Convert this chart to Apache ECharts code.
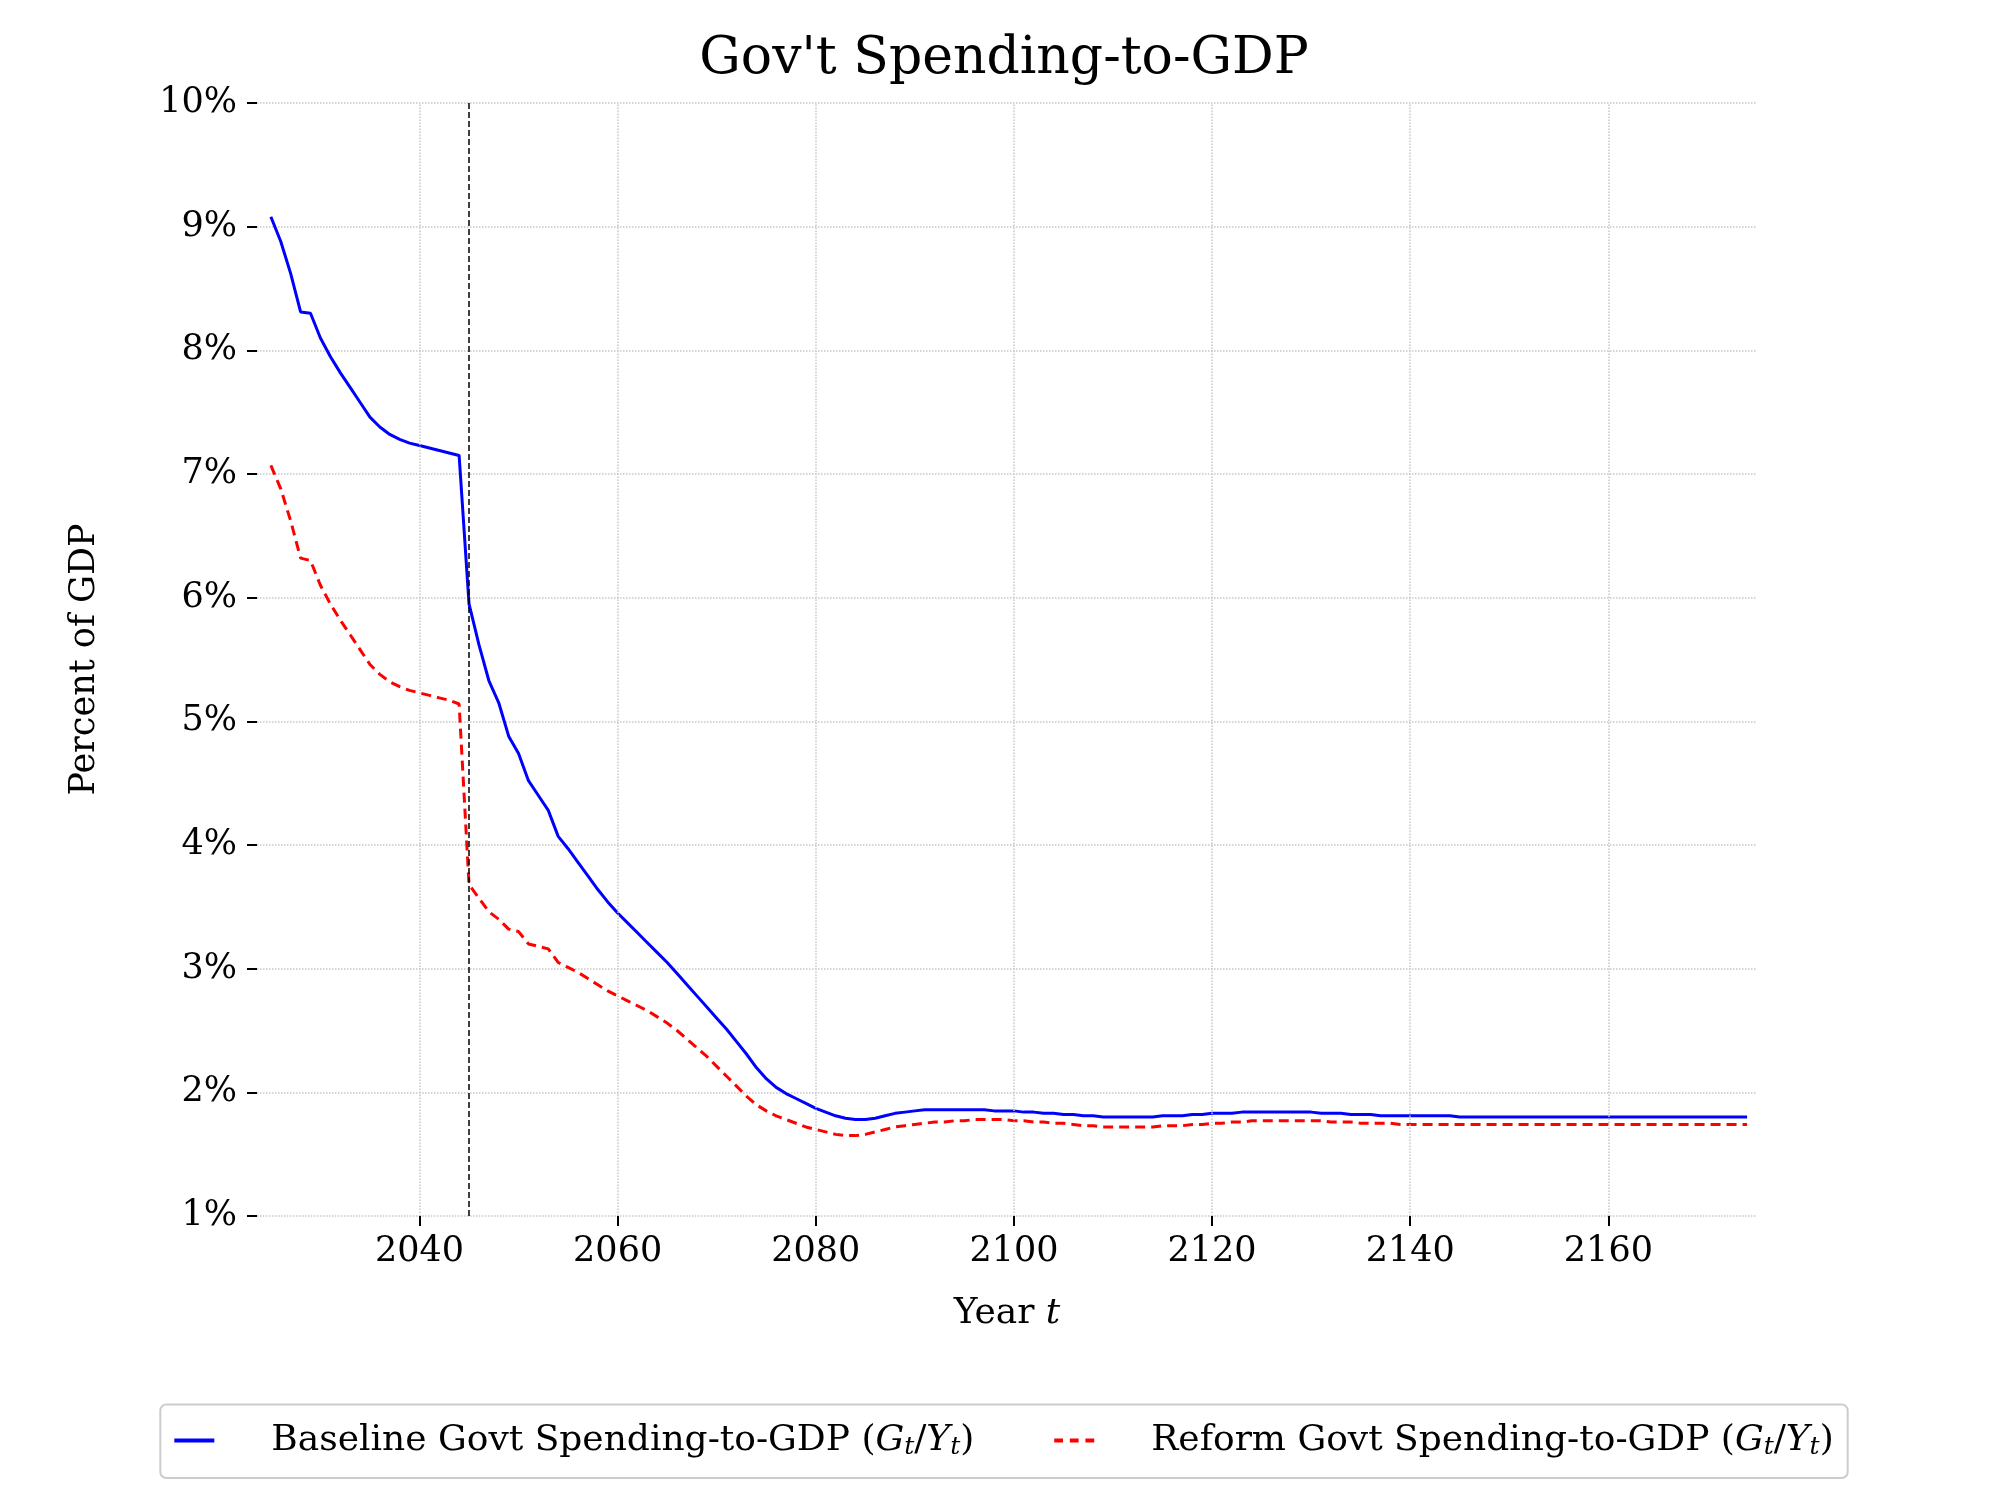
<!DOCTYPE html>
<html>
<head>
<meta charset="utf-8">
<script src="https://cdn.jsdelivr.net/npm/echarts@6/dist/echarts.min.js"></script>
<style>html,body{margin:0;padding:0;background:#fff}#chart{width:2008px;height:1506px}</style>
</head>
<body>
<div id="chart"></div>
<script>
var startYear = 2025;
var baseline = [
 9.08,8.88,8.62,8.31,8.30,8.10,7.95,7.82,7.70,7.58,7.46,7.38,7.32,7.28,7.25,7.23,7.21,7.19,7.17,7.15,
 5.95,5.62,5.33,5.15,4.88,4.74,4.52,4.40,4.28,4.07,3.97,3.86,3.75,3.64,3.54,3.45,3.37,3.29,3.21,3.13,
 3.05,2.96,2.87,2.78,2.69,2.60,2.51,2.41,2.31,2.20,2.11,2.04,1.99,1.95,1.91,1.87,1.84,1.81,1.79,1.78,
 1.78,1.79,1.81,1.83,1.84,1.85,
 1.86,1.86,1.86,1.86,1.86,1.86,1.86,1.85,1.85,1.85,1.84,1.84,1.83,1.83,1.82,1.82,1.81,1.81,1.80,1.80,
 1.80,1.80,1.80,1.80,1.81,1.81,1.81,1.82,1.82,1.83,1.83,1.83,1.84,1.84,1.84,1.84,1.84,1.84,1.84,1.84,
 1.83,1.83,1.83,1.82,1.82,1.82,1.81,1.81,1.81,1.81,1.81,1.81,1.81,1.81,
 1.80,1.80,1.80,1.80,1.80,1.80,1.80,1.80,1.80,1.80,1.80,1.80,1.80,1.80,1.80,
 1.80,1.80,1.80,1.80,1.80,1.80,1.80,1.80,1.80,1.80,1.80,1.80,1.80,1.80,1.80
];
var reform = [
 7.07,6.88,6.62,6.32,6.30,6.10,5.95,5.82,5.70,5.58,5.46,5.38,5.32,5.28,5.25,5.23,5.21,5.19,5.17,5.14,
 3.68,3.57,3.46,3.40,3.32,3.30,3.20,3.18,3.16,3.05,3.01,2.97,2.92,2.87,2.82,2.78,2.74,2.70,2.66,2.61,
 2.56,2.50,2.43,2.36,2.29,2.21,2.13,2.05,1.97,1.90,1.85,1.81,1.78,1.75,1.72,1.70,1.68,1.66,1.65,1.65,
 1.66,1.68,1.70,1.72,1.73,1.74,
 1.75,1.76,1.76,1.77,1.77,1.78,1.78,1.78,1.78,1.77,1.77,1.76,1.76,1.75,1.75,1.74,1.73,1.73,1.72,1.72,
 1.72,1.72,1.72,1.72,1.73,1.73,1.73,1.74,1.74,1.75,1.75,1.76,1.76,1.77,1.77,1.77,1.77,1.77,1.77,1.77,
 1.77,1.76,1.76,1.76,1.75,1.75,1.75,1.75,1.74,1.74,
 1.74,1.74,1.74,1.74,1.74,1.74,1.74,1.74,1.74,1.74,1.74,1.74,1.74,1.74,1.74,1.74,1.74,
 1.74,1.74,1.74,1.74,1.74,1.74,1.74,1.74,1.74,1.74,1.74,1.74,1.74,1.74,1.74,1.74,1.74
];
var xTicks = [2040, 2060, 2080, 2100, 2120, 2140, 2160];
var reformYear = 2045;

function pairs(arr) {
  return arr.map(function (v, i) { return [startYear + i, v]; });
}

var myChart = echarts.init(document.getElementById('chart'));
var serif = 'DejaVu Serif';
var rich = {
  g: {width: 30},
  n: {fontFamily: serif, fontSize: 36, color: '#000'},
  i: {fontFamily: serif, fontSize: 36, fontStyle: 'italic', color: '#000'},
  s: {fontFamily: serif, fontSize: 25, fontStyle: 'italic', color: '#000', verticalAlign: 'bottom', padding: [14, 0, 0, 0]}
};

var option = {
  backgroundColor: '#fff',
  title: {
    text: "Gov't Spending-to-GDP", left: 'center', top: 28,
    textStyle: {fontFamily: serif, fontSize: 52, fontWeight: 'normal', color: '#000'}
  },
  grid: {left: 257, right: 251, top: 103, bottom: 290},
  legend: {
    bottom: 28, left: 'center',
    itemWidth: 84, itemHeight: 4, itemGap: 80,
    backgroundColor: '#fff', borderColor: '#ccc', borderWidth: 2, borderRadius: 6,
    padding: [18, 14, 18, 14],
    formatter: function (name) {
      return '{g|}{n|' + name + ' (}{i|G}{s|t}{n|/}{i|Y}{s|t}{n|)}';
    },
    textStyle: {rich: rich},
    data: [
      {name: 'Baseline Govt Spending-to-GDP', icon: 'path://M0,0L10,0L10,1L0,1Z'},
      {name: 'Reform Govt Spending-to-GDP', icon: 'path://M0,0L2.2,0L2.2,1L0,1ZM3.9,0L6.1,0L6.1,1L3.9,1ZM7.8,0L10,0L10,1L7.8,1Z'}
    ]
  },
  xAxis: {
    type: 'value', min: 2023.6, max: 2175,
    name: '{n|Year }{i|t}', nameLocation: 'middle', nameGap: 80,
    nameTextStyle: {rich: rich},
    axisLine: {show: false},
    axisTick: {show: true, length: 10, lineStyle: {color: '#000', width: 2}, customValues: xTicks},
    axisLabel: {fontFamily: serif, fontSize: 35, color: '#000', margin: 18, customValues: xTicks,
      formatter: function (v) { return String(v); }},
    splitLine: {show: false}
  },
  yAxis: {
    type: 'value', min: 1, max: 10, interval: 1,
    name: 'Percent of GDP', nameLocation: 'middle', nameGap: 155, nameRotate: 90,
    nameTextStyle: {fontFamily: serif, fontSize: 35, color: '#000'},
    axisLine: {show: false},
    axisTick: {show: true, length: 10, lineStyle: {color: '#000', width: 2}},
    axisLabel: {fontFamily: serif, fontSize: 35, color: '#000', margin: 20, formatter: '{value}%'},
    splitLine: {show: true, lineStyle: {color: '#c8c8c8', type: 'dotted', width: 1.5}}
  },
  series: [
    {
      name: 'Baseline Govt Spending-to-GDP', type: 'line', data: pairs(baseline),
      showSymbol: false, lineStyle: {color: '#0000ff', width: 3}, itemStyle: {color: '#0000ff'},
      markLine: {
        silent: true, symbol: 'none', label: {show: false},
        data: xTicks.map(function (t) {
          return {xAxis: t, lineStyle: {color: '#c8c8c8', type: 'dotted', width: 1.5}};
        }).concat([{xAxis: reformYear, lineStyle: {color: '#000', type: [6, 3], width: 1.5}}])
      },
      z: 3
    },
    {
      name: 'Reform Govt Spending-to-GDP', type: 'line', data: pairs(reform),
      showSymbol: false, lineStyle: {color: '#ff0000', width: 3, type: [10, 6]}, itemStyle: {color: '#ff0000'},
      z: 3
    }
  ]
};
myChart.setOption(option);
</script>
</body>
</html>
